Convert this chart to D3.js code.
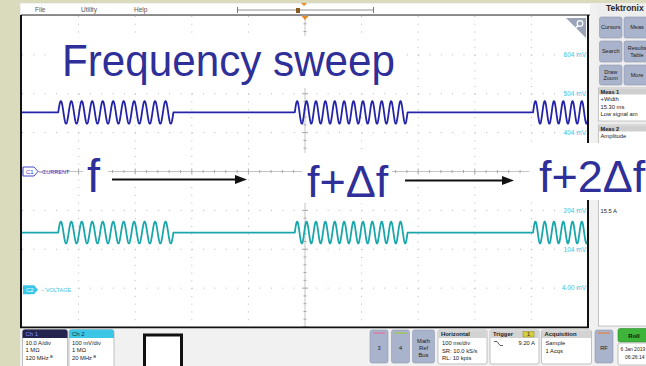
<!DOCTYPE html>
<html><head><meta charset="utf-8">
<script src="https://cdn.jsdelivr.net/npm/d3@7"></script>
<style>html,body{margin:0;padding:0;background:#dadabd;} svg{display:block;}</style>
</head><body><svg id="c" width="646" height="366"></svg>
<script>
// ---------------- data ----------------
const timeDomainMs = [0, 1000];          // 100 ms/div, 10 div
const ch1DomainA = [-40, 40];            // 10 A/div, 8 div
const ch2DomainMv = [-96, 704];          // 100 mV/div, 8 div
const ch2TickValues = [604, 504, 404, 204, 104, 4];
const ch2TickLabels = ["604 mV", "504 mV", "404 mV", "204 mV", "104 mV", "4.00 mV"];
const burstStartMs = [64, 482, 903];
const burstPeriodMs = [18.5, 16.6, 16.4];
const burstCycles = [11, 12, 6];
const ch1BaselineA = 15.2, ch1AmplitudeA = 2.9;
const ch2BaselineMv = 147, ch2AmplitudeMv = 28;
const sweepLabels = ["f", "f+Δf", "f+2Δf"];
const menuItems = ["File", "Utility", "Help"];
const ch1Info = ["10.0 A/div", "1 MΩ", "120 MHz ᴮ"];
const ch2Info = ["100 mV/div", "1 MΩ", "20 MHz ᴮ"];
const horizInfo = ["100 ms/div", "SR: 10.0 kS/s", "RL: 10 kpts"];
const acqInfo = ["Sample", "1 Acqs"];
const meas1Info = ["+Width", "15.30 ms", "Low signal am"];

// ---------------- layout ----------------
const W = 646, H = 366;
const P = {x0: 22, x1: 588, y0: 16, y1: 327};
const svg = d3.select("#c");
const FONT = "'Liberation Sans', Arial, sans-serif";

const x = d3.scaleLinear().domain(timeDomainMs).range([P.x0, P.x1]);
const y1 = d3.scaleLinear().domain(ch1DomainA).range([P.y1, P.y0]);
const y2 = d3.scaleLinear().domain(ch2DomainMv).range([P.y1, P.y0]);

// backgrounds
svg.append("rect").attr("width", W).attr("height", H).attr("fill", "#dadabd");
svg.append("rect").attr("x", 20).attr("y", 3).attr("width", W - 20).attr("height", H - 3).attr("fill", "#f1f1f1");

// menu bar
svg.append("rect").attr("x", 21).attr("y", 4).attr("width", 569).attr("height", 11).attr("fill", "#fff");
svg.append("line").attr("x1", 21).attr("x2", 590).attr("y1", 15).attr("y2", 15).attr("stroke", "#222").attr("stroke-width", 1);
const menuX = [35, 81, 134];
menuItems.forEach((m, i) => svg.append("text").attr("x", menuX[i]).attr("y", 12).text(m)
  .attr("font-family", FONT).attr("font-size", 6.5).attr("fill", "#555"));
svg.append("line").attr("x1", 238).attr("x2", 373).attr("y1", 10).attr("y2", 10).attr("stroke", "#b5b5b5").attr("stroke-width", 1.6);
svg.append("line").attr("x1", 237.5).attr("x2", 237.5).attr("y1", 7).attr("y2", 13).attr("stroke", "#777").attr("stroke-width", 1);
svg.append("line").attr("x1", 373.5).attr("x2", 373.5).attr("y1", 7).attr("y2", 13).attr("stroke", "#777").attr("stroke-width", 1);
svg.append("rect").attr("x", 296).attr("y", 8).attr("width", 4).attr("height", 5).attr("fill", "#8a5a20");
svg.append("path").attr("d", "M301,3 L307,3 L304,6 Z").attr("fill", "#e88a20");

// plot area
svg.append("rect").attr("x", P.x0).attr("y", P.y0).attr("width", P.x1 - P.x0).attr("height", P.y1 - P.y0).attr("fill", "#fff");

// grid
const dx = (P.x1 - P.x0) / 10, dy = (P.y1 - P.y0) / 8;
const grid = svg.append("g");
for (let k = 1; k < 10; k++) {
  if (k === 5) continue;
  grid.append("line").attr("x1", P.x0 + k * dx).attr("x2", P.x0 + k * dx).attr("y1", P.y0).attr("y2", P.y1)
    .attr("stroke", "#b8b8b8").attr("stroke-width", 1).attr("stroke-dasharray", `1,${dy / 5 - 1}`);
}
for (let k = 1; k < 8; k++) {
  if (k === 4) continue;
  grid.append("line").attr("x1", P.x0).attr("x2", P.x1).attr("y1", P.y0 + k * dy).attr("y2", P.y0 + k * dy)
    .attr("stroke", "#b8b8b8").attr("stroke-width", 1).attr("stroke-dasharray", `1,${dx / 5 - 1}`);
}
const cx = P.x0 + 5 * dx, cy = P.y0 + 4 * dy;
grid.append("line").attr("x1", P.x0).attr("x2", P.x1).attr("y1", cy).attr("y2", cy).attr("stroke", "#c4c4c4");
grid.append("line").attr("x1", cx).attr("x2", cx).attr("y1", P.y0).attr("y2", P.y1).attr("stroke", "#c4c4c4");
for (let k = 0; k <= 50; k++) {
  const xx = P.x0 + k * dx / 5, len = k % 5 === 0 ? 3 : 1.5;
  grid.append("line").attr("x1", xx).attr("x2", xx).attr("y1", cy - len).attr("y2", cy + len).attr("stroke", "#a8a8a8");
}
for (let k = 0; k <= 40; k++) {
  const yy = P.y0 + k * dy / 5, len = k % 5 === 0 ? 3 : 1.5;
  grid.append("line").attr("x1", cx - len).attr("x2", cx + len).attr("y1", yy).attr("y2", yy).attr("stroke", "#a8a8a8");
}

// ch2 scale labels
ch2TickValues.forEach((v, i) => svg.append("text").attr("x", P.x1 - 2).attr("y", y2(v)).attr("dy", "0.35em")
  .attr("text-anchor", "end").text(ch2TickLabels[i]).attr("font-family", FONT).attr("font-size", 6.5).attr("fill", "#3cc6e6"));

// zoom icon
svg.append("path").attr("d", `M566,18 L586,18 L586,38 Z`).attr("fill", "#9aa3b8");
svg.append("circle").attr("cx", 580).attr("cy", 23.5).attr("r", 2.8).attr("fill", "none").attr("stroke", "#fff").attr("stroke-width", 1.2);
svg.append("line").attr("x1", 578).attr("y1", 25.5).attr("x2", 575).attr("y2", 28.5).attr("stroke", "#fff").attr("stroke-width", 1.4);

// trigger position marker
svg.append("path").attr("d", `M${cx - 3.5},16 L${cx + 3.5},16 L${cx},20 Z`).attr("fill", "#e88a20");

// waveforms
function burstLevel(t, base, amp) {
  for (let i = 0; i < burstStartMs.length; i++) {
    const s = burstStartMs[i], e = s + burstPeriodMs[i] * burstCycles[i];
    if (t >= s && t <= e) return base + amp * Math.sin(2 * Math.PI * (t - s) / burstPeriodMs[i]);
  }
  return base;
}
const times = d3.range(timeDomainMs[0], timeDomainMs[1] + 0.001, 0.25);
const ch1 = times.map(t => ({t, v: burstLevel(t, ch1BaselineA, ch1AmplitudeA)}));
const ch2 = times.map(t => ({t, v: burstLevel(t, ch2BaselineMv, ch2AmplitudeMv)}));
svg.append("clipPath").attr("id", "pc").append("rect").attr("x", P.x0).attr("y", P.y0).attr("width", P.x1 - P.x0).attr("height", P.y1 - P.y0);
const traces = svg.append("g").attr("clip-path", "url(#pc)");
traces.append("path").datum(ch2).attr("d", d3.line().x(d => x(d.t)).y(d => y2(d.v)))
  .attr("fill", "none").attr("stroke", "#1aa7ac").attr("stroke-width", 1.8).attr("stroke-linejoin", "round");
traces.append("path").datum(ch1).attr("d", d3.line().x(d => x(d.t)).y(d => y1(d.v)))
  .attr("fill", "none").attr("stroke", "#2424a8").attr("stroke-width", 1.8).attr("stroke-linejoin", "round");

// channel markers
const c1y = y1(0);
svg.append("path").attr("d", `M23,${c1y - 4.5} L34,${c1y - 4.5} L38,${c1y} L34,${c1y + 4.5} L23,${c1y + 4.5} Z`)
  .attr("fill", "#fff").attr("stroke", "#3535c4").attr("stroke-width", 0.9);
svg.append("text").attr("x", 26).attr("y", c1y + 2.2).text("C1").attr("font-family", FONT).attr("font-size", 6).attr("fill", "#3535c4");
svg.append("text").attr("x", 39).attr("y", c1y + 2.2).text("–CURRENT").attr("font-family", FONT).attr("font-size", 5.6).attr("fill", "#3535c4");
const c2y = y2(0);
svg.append("path").attr("d", `M23,${c2y - 4.5} L34,${c2y - 4.5} L38,${c2y} L34,${c2y + 4.5} L23,${c2y + 4.5} Z`)
  .attr("fill", "#3cc6e6");
svg.append("text").attr("x", 26).attr("y", c2y + 2.2).text("C2").attr("font-family", FONT).attr("font-size", 6).attr("fill", "#fff");
svg.append("text").attr("x", 41).attr("y", c2y + 2.2).text("– VOLTAGE").attr("font-family", FONT).attr("font-size", 5.6).attr("fill", "#3cc6e6");

// plot borders
svg.append("line").attr("x1", 21).attr("x2", 21).attr("y1", 15).attr("y2", 328).attr("stroke", "#111").attr("stroke-width", 2);
svg.append("line").attr("x1", 588).attr("x2", 588).attr("y1", 15).attr("y2", 328).attr("stroke", "#111").attr("stroke-width", 2);
svg.append("line").attr("x1", 20).attr("x2", 589).attr("y1", 327.5).attr("y2", 327.5).attr("stroke", "#111").attr("stroke-width", 2);

// ---------------- right panel ----------------
svg.append("rect").attr("x", 597).attr("y", 3).attr("width", 49).attr("height", 324).attr("fill", "#eeeeee");
svg.append("text").attr("x", 606).attr("y", 11).text("Tektronix").attr("font-family", FONT).attr("font-weight", "bold")
  .attr("font-size", 8.5).attr("fill", "#2a2a2a");
function button(bx, by, bw, bh, lines, fs) {
  svg.append("rect").attr("x", bx).attr("y", by).attr("width", bw).attr("height", bh).attr("rx", 2)
    .attr("fill", "#a9b3cb").attr("stroke", "#8f99b0").attr("stroke-width", 0.6);
  const n = lines.length;
  lines.forEach((l, i) => svg.append("text").attr("x", bx + bw / 2).attr("y", by + bh / 2 + (i - (n - 1) / 2) * (fs + 1) + fs * 0.35)
    .attr("text-anchor", "middle").text(l).attr("font-family", FONT).attr("font-size", fs).attr("fill", "#222"));
}
button(599.5, 17, 22.5, 21, ["Cursors"], 5.6);
button(624, 17, 26, 21, ["Meas"], 5.6);
button(599.5, 41, 22.5, 21, ["Search"], 5.6);
button(624, 41, 26, 21, ["Results", "Table"], 5.6);
button(599.5, 65, 22.5, 20, ["Draw", "Zoom"], 5.6);
button(624, 65, 26, 20, ["More"], 5.6);
function measBox(by, bh, title, lines) {
  svg.append("rect").attr("x", 598.5).attr("y", by).attr("width", 50).attr("height", bh).attr("fill", "#fff").attr("stroke", "#b0b0b0").attr("stroke-width", 0.7);
  svg.append("rect").attr("x", 599).attr("y", by + 0.5).attr("width", 50).attr("height", 6).attr("fill", "#cfcfcf");
  svg.append("text").attr("x", 600.5).attr("y", by + 5.6).text(title).attr("font-family", FONT).attr("font-weight", "bold").attr("font-size", 5.6).attr("fill", "#222");
  lines.forEach((l, i) => svg.append("text").attr("x", 600.5).attr("y", by + 13 + i * 7.6).text(l)
    .attr("font-family", FONT).attr("font-size", 5.8).attr("fill", "#222"));
}
measBox(88, 33, "Meas 1", meas1Info);
measBox(125, 201, "Meas 2", ["Amplitude"]);
svg.append("text").attr("x", 600.5).attr("y", 213).text("15.5 A").attr("font-family", FONT).attr("font-size", 5.8).attr("fill", "#222");

// ---------------- bottom bar ----------------
svg.append("rect").attr("x", 20).attr("y", 328.5).attr("width", W - 20).attr("height", 38).attr("fill", "#f1f1f1");
function chBox(bx, title, hdrFill, hdrText, lines) {
  svg.append("rect").attr("x", bx).attr("y", 329.5).attr("width", 45).attr("height", 40).attr("rx", 2.5)
    .attr("fill", "#fff").attr("stroke", "#a8a8a8").attr("stroke-width", 0.7);
  svg.append("path").attr("d", `M${bx},338 L${bx},332 Q${bx},329.5 ${bx + 2.5},329.5 L${bx + 42.5},329.5 Q${bx + 45},329.5 ${bx + 45},332 L${bx + 45},338 Z`).attr("fill", hdrFill);
  svg.append("text").attr("x", bx + 3).attr("y", 336).text(title).attr("font-family", FONT).attr("font-size", 6).attr("fill", hdrText);
  lines.forEach((l, i) => svg.append("text").attr("x", bx + 3).attr("y", 344.5 + i * 7.6).text(l)
    .attr("font-family", FONT).attr("font-size", 5.8).attr("fill", "#222"));
}
chBox(22.5, "Ch 1", "#24244e", "#8c8cff", ch1Info);
chBox(69, "Ch 2", "#3cc6e6", "#14323a", ch2Info);
// black outline box
svg.append("rect").attr("x", 144.5).attr("y", 335).attr("width", 37).attr("height", 36).attr("fill", "#fff").attr("stroke", "#111").attr("stroke-width", 3);

function smallBtn(bx, bw, label, stripe) {
  svg.append("rect").attr("x", bx).attr("y", 330).attr("width", bw).attr("height", 33).attr("rx", 2)
    .attr("fill", "#a9b3cb").attr("stroke", "#8f99b0").attr("stroke-width", 0.6);
  if (stripe) svg.append("line").attr("x1", bx + 3).attr("x2", bx + bw - 3).attr("y1", 333).attr("y2", 333).attr("stroke", stripe).attr("stroke-width", 1.2);
  const n = label.length;
  label.forEach((l, i) => svg.append("text").attr("x", bx + bw / 2).attr("y", 348 + (i - (n - 1) / 2) * 7 + 2)
    .attr("text-anchor", "middle").text(l).attr("font-family", FONT).attr("font-size", 5.8).attr("fill", "#222"));
}
smallBtn(370, 18, ["3"], "#e66e9a");
smallBtn(391.5, 18, ["4"], "#a0cc3a");
smallBtn(412.5, 22, ["Math", "Ref", "Bus"], null);
smallBtn(595, 18, ["RF"], "#e8843c");
function infoBox(bx, bw, title, lines) {
  svg.append("rect").attr("x", bx).attr("y", 330).attr("width", bw).attr("height", 34).attr("rx", 2)
    .attr("fill", "#fff").attr("stroke", "#a8a8a8").attr("stroke-width", 0.7);
  svg.append("rect").attr("x", bx + 0.5).attr("y", 330.5).attr("width", bw - 1).attr("height", 7.5).attr("fill", "#d3d3d3");
  svg.append("text").attr("x", bx + 3).attr("y", 336.3).text(title).attr("font-family", FONT).attr("font-weight", "bold").attr("font-size", 5.9).attr("fill", "#222");
  lines.forEach((l, i) => svg.append("text").attr("x", bx + 4).attr("y", 345 + i * 7.5).text(l)
    .attr("font-family", FONT).attr("font-size", 5.8).attr("fill", "#222"));
}
infoBox(438, 49, "Horizontal", horizInfo);
infoBox(490, 49, "Trigger", []);
svg.append("rect").attr("x", 523).attr("y", 331.5).attr("width", 11).attr("height", 5.5).attr("fill", "#d6cf3c").attr("stroke", "#8a8420").attr("stroke-width", 0.5);
svg.append("text").attr("x", 528.5).attr("y", 336).attr("text-anchor", "middle").text("1").attr("font-family", FONT).attr("font-size", 5.5).attr("fill", "#222");
svg.append("path").attr("d", "M494,341.5 L497,341.5 L500,345.5 L503,345.5").attr("fill", "none").attr("stroke", "#222").attr("stroke-width", 0.7);
svg.append("text").attr("x", 535).attr("y", 345).attr("text-anchor", "end").text("9.20 A").attr("font-family", FONT).attr("font-size", 5.8).attr("fill", "#222");
infoBox(541.5, 50, "Acquisition", acqInfo);
svg.append("rect").attr("x", 618).attr("y", 328.5).attr("width", 32).attr("height", 13.5).attr("rx", 2).attr("fill", "#3fb43a").attr("stroke", "#2a8a28").attr("stroke-width", 0.6);
svg.append("text").attr("x", 634).attr("y", 337.5).attr("text-anchor", "middle").text("Roll").attr("font-family", FONT).attr("font-weight", "bold").attr("font-size", 6).attr("fill", "#111");
svg.append("rect").attr("x", 618).attr("y", 343).attr("width", 32).attr("height", 22).attr("rx", 2).attr("fill", "#fff").attr("stroke", "#a8a8a8").attr("stroke-width", 0.7);
svg.append("text").attr("x", 620.5).attr("y", 351).text("6 Jan 2019").attr("font-family", FONT).attr("font-size", 5).attr("fill", "#222");
svg.append("text").attr("x", 625).attr("y", 358.5).text("06:26:14").attr("font-family", FONT).attr("font-size", 5).attr("fill", "#222");

// ---------------- overlay annotations ----------------
const ann = svg.append("g");
const BLUE = "#2e2f98";
function label(txt, lx, ly, fs, bg, len) {
  ann.append("rect").attr("x", bg[0]).attr("y", bg[1]).attr("width", bg[2]).attr("height", bg[3]).attr("fill", "#fff");
  const t = ann.append("text").attr("x", lx).attr("y", ly).text(txt).attr("font-family", FONT).attr("font-size", fs).attr("fill", BLUE);
  if (len) t.attr("textLength", len).attr("lengthAdjust", "spacingAndGlyphs");
}
label("Frequency sweep", 62, 76, 44, [56, 36, 345, 52], 333);
label(sweepLabels[0], 87, 192, 47, [83, 150, 25, 48]);
label(sweepLabels[1], 307, 197, 45, [302, 153, 90, 50]);
label(sweepLabels[2], 539, 192, 45, [529, 143, 117, 57]);
function arrow(xa, xb, ya) {
  ann.append("line").attr("x1", xa).attr("x2", xb - 10).attr("y1", ya).attr("y2", ya).attr("stroke", "#111").attr("stroke-width", 2);
  ann.append("path").attr("d", `M${xb - 12},${ya - 4.5} L${xb},${ya} L${xb - 12},${ya + 4.5} Z`).attr("fill", "#111");
}
arrow(112, 247, 179.5);
arrow(405, 514, 180.5);
</script></body></html>
